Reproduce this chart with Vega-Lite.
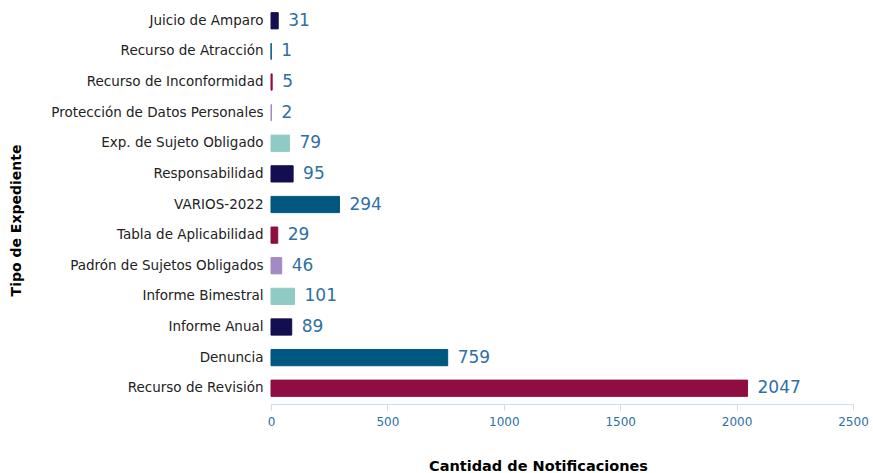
{
  "$schema": "https://vega.github.io/schema/vega-lite/v6.json",
  "width": 582,
  "height": 399,
  "autosize": "none",
  "padding": {"left": 271, "top": 5, "right": 20, "bottom": 69},
  "background": "white",
  "config": {"view": {"stroke": null}, "font": "DejaVu Sans"},
  "data": {"values": [
    {"tipo": "Juicio de Amparo", "n": 31, "grupo": "a"},
    {"tipo": "Recurso de Atracción", "n": 1, "grupo": "b"},
    {"tipo": "Recurso de Inconformidad", "n": 5, "grupo": "c"},
    {"tipo": "Protección de Datos Personales", "n": 2, "grupo": "d"},
    {"tipo": "Exp. de Sujeto Obligado", "n": 79, "grupo": "e"},
    {"tipo": "Responsabilidad", "n": 95, "grupo": "a"},
    {"tipo": "VARIOS-2022", "n": 294, "grupo": "b"},
    {"tipo": "Tabla de Aplicabilidad", "n": 29, "grupo": "c"},
    {"tipo": "Padrón de Sujetos Obligados", "n": 46, "grupo": "d"},
    {"tipo": "Informe Bimestral", "n": 101, "grupo": "e"},
    {"tipo": "Informe Anual", "n": 89, "grupo": "a"},
    {"tipo": "Denuncia", "n": 759, "grupo": "b"},
    {"tipo": "Recurso de Revisión", "n": 2047, "grupo": "c"}
  ]},
  "encoding": {
    "y": {
      "field": "tipo", "type": "nominal", "sort": null,
      "scale": {"paddingInner": 0.47, "paddingOuter": 0.25},
      "axis": {
        "title": "Tipo de Expediente", "titleFontSize": 14, "titleFontWeight": "bold",
        "titleColor": "#000000", "titleX": -255, "titleY": 215, "titleAngle": -90,
        "titleAlign": "center", "titleBaseline": "middle",
        "labelFontSize": 13.5, "labelColor": "#222222", "labelPadding": 8,
        "domain": false, "ticks": false, "labelLimit": 300
      }
    },
    "x": {
      "field": "n", "type": "quantitative",
      "scale": {"domain": [0, 2500], "nice": false},
      "axis": {
        "title": "Cantidad de Notificaciones", "titleFontSize": 14.5, "titleFontWeight": "bold",
        "titleColor": "#000000", "titleX": 267, "titleY": 62, "titleAlign": "center", "titleBaseline": "middle",
        "values": [0, 500, 1000, 1500, 2000, 2500], "format": "d",
        "labelFontSize": 12, "labelColor": "#2f6fa6", "labelPadding": 6,
        "domainColor": "#c9deee", "tickColor": "#c9deee", "tickSize": 6,
        "grid": false, "labelFlush": false
      }
    }
  },
  "layer": [
    {
      "mark": {"type": "bar", "strokeWidth": 1},
      "encoding": {
        "color": {
          "field": "grupo", "type": "nominal", "legend": null,
          "scale": {"domain": ["a", "b", "c", "d", "e"],
                    "range": ["#120e50", "#00577f", "#8e0e41", "#a38ac4", "#8fcbc4"]}
        },
        "stroke": {
          "field": "grupo", "type": "nominal", "legend": null,
          "scale": {"domain": ["a", "b", "c", "d", "e"],
                    "range": ["#120e50", "#00577f", "#8e0e41", "#a38ac4", "#8fcbc4"]}
        }
      }
    },
    {
      "mark": {"type": "text", "align": "left", "baseline": "middle", "dx": 10, "fontSize": 17, "color": "#2f6fa6"},
      "encoding": {"text": {"field": "n", "type": "quantitative"}}
    }
  ]
}
